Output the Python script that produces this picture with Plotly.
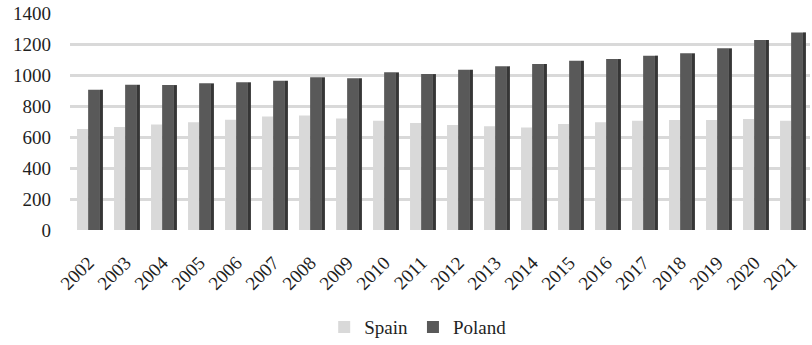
import plotly.graph_objects as go

years = [str(y) for y in range(2002, 2022)]
spain = [652, 665, 680, 695, 712, 733, 738, 720, 705, 690,
         677, 669, 662, 684, 695, 705, 710, 710, 716, 705]
poland = [905, 937, 935, 946, 953, 963, 985, 979, 1017, 1006,
          1034, 1056, 1071, 1092, 1103, 1125, 1140, 1172, 1226, 1275]

FONT = "Liberation Serif, Times New Roman, serif"
TXT = "#1f1f1f"

fig = go.Figure()

# front faces of the columns
fig.add_trace(go.Bar(x=years, y=spain, name="Spain", offset=-0.31, width=0.30,
                     marker=dict(color="#d9d9d9", line=dict(width=0))))
fig.add_trace(go.Bar(x=years, y=poland, name="Poland", offset=-0.01, width=0.32,
                     marker=dict(color="#595959", line=dict(width=0))))
# shaded right-hand side faces for the column depth
fig.add_trace(go.Bar(x=years, y=poland, offset=0.31, width=0.08, showlegend=False,
                     hoverinfo="skip", marker=dict(color="#363636", line=dict(width=0))))

fig.update_layout(
    width=812, height=345,
    margin=dict(l=70, r=2, t=13, b=115),
    paper_bgcolor="white", plot_bgcolor="white",
    barmode="overlay",
    font=dict(family=FONT, size=19, color=TXT),
    legend=dict(orientation="h", xref="container", yref="container",
                x=0.515, y=0.052, xanchor="center", yanchor="middle",
                font=dict(family=FONT, size=19, color=TXT),
                itemwidth=30, traceorder="normal"),
    xaxis=dict(tickangle=-45, showgrid=False, showline=False, zeroline=False,
               ticks="", ticklabelstandoff=17, range=[-0.5, 19.5],
               tickfont=dict(family=FONT, size=19, color=TXT)),
    yaxis=dict(range=[0, 1400], tickvals=list(range(0, 1401, 200)),
               showgrid=True, gridcolor="#d9d9d9", gridwidth=2.5,
               zeroline=False, showline=False, ticks="", ticklabelstandoff=18,
               tickfont=dict(family=FONT, size=19, color=TXT)),
)

fig.write_html("out.html")
